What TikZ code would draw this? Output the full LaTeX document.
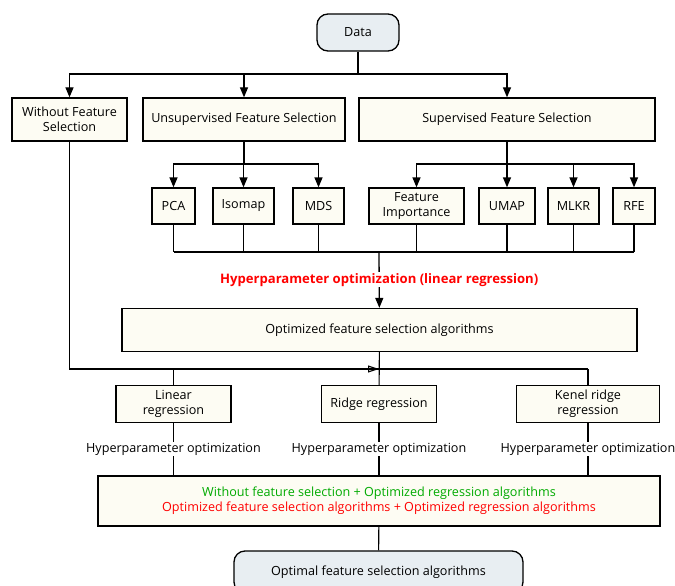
\documentclass[tikz,border=0pt]{standalone}
\usepackage{fontspec}
\setmainfont{Open Sans}
\usetikzlibrary{arrows.meta, positioning, calc}

\definecolor{boxfill}{RGB}{253,252,243}
\definecolor{termfill}{RGB}{232,238,242}
\definecolor{okgreen}{RGB}{0,170,0}

\begin{document}
\begin{tikzpicture}[
  x=1pt, y=-1pt,
  >={Triangle[length=10pt,width=8pt]},
  box/.style={draw, line width=1.3pt, fill=boxfill, inner sep=2pt, font=\fontsize{12.6}{15}\selectfont, align=center},
  term/.style={box, rounded corners=11pt, fill=termfill},
  flow/.style={->, line width=1.3pt},
  link/.style={line width=1.1pt},
  hplabel/.style={fill=white, inner sep=1pt, font=\fontsize{12.6}{15}\selectfont},
  hpmain/.style={fill=white, inner sep=1pt, text=red, font=\fontsize{13.1}{15}\selectfont\bfseries}
]

\useasboundingbox (0,0) rectangle (675,586);

% nodes
\node[term, minimum width=82, minimum height=37] (Data) at (358,32.5) {Data};
\node[box, minimum width=115, minimum height=43] (NoFS)  at (69.5,119.5) {Without Feature\\Selection};
\node[box, minimum width=202, minimum height=43] (UnFS)  at (244,119.5)  {Unsupervised Feature Selection};
\node[box, minimum width=296, minimum height=43] (SupFS) at (507,119.5)  {Supervised Feature Selection};

\node[box, minimum width=43, minimum height=36] (PCA)     at (173.5,206) {PCA};
\node[box, minimum width=61, minimum height=36] (Isomap)  at (243.5,206) {Isomap};
\node[box, minimum width=51, minimum height=36] (MDS)     at (318.5,206) {MDS};
\node[box, minimum width=95, minimum height=36] (FeatImp) at (416.5,206) {Feature\\Importance};
\node[box, minimum width=56, minimum height=36] (UMAP)    at (507,206)   {UMAP};
\node[box, minimum width=51, minimum height=36] (MLKR)    at (573.5,206) {MLKR};
\node[box, minimum width=42, minimum height=36] (RFE)     at (634,206)   {RFE};

\node[box, minimum width=515, minimum height=43] (OptFS) at (379.5,330) {Optimized feature selection algorithms};

\node[box, minimum width=115, minimum height=37] (LinReg)   at (173.5,404) {Linear\\regression};
\node[box, minimum width=115, minimum height=37] (RidgeReg) at (379,404)   {Ridge regression};
\node[box, minimum width=143, minimum height=37] (KenelReg) at (588,404)   {Kenel ridge\\regression};

\node[box, minimum width=562, minimum height=50] (Final) at (379,501)
  {\color{okgreen}Without feature selection + Optimized regression algorithms\\
   \color{red}Optimized feature selection algorithms + Optimized regression algorithms};
\node[term, minimum width=289, minimum height=42] (Optimal) at (378.5,572) {Optimal feature selection algorithms};

% split points
\coordinate (dsplit) at (358,74);
\coordinate (usplit) at (244,164);
\coordinate (ssplit) at (507,164);
\coordinate (merge)  at (379,252);
\coordinate (rsplit) at (379,369);

% flows
\draw[flow] (Data) -- (dsplit) -| (NoFS);
\draw[flow] (dsplit) -| (UnFS);
\draw[flow] (dsplit) -| (SupFS);

\draw[link] (UnFS) -- (usplit);
\foreach \n in {PCA, Isomap, MDS}
  \draw[flow] (usplit) -| (\n);
\draw[link] (SupFS) -- (ssplit);
\foreach \n in {FeatImp, UMAP, MLKR, RFE}
  \draw[flow] (ssplit) -| (\n);

% collect all selectors
\foreach \n in {PCA, Isomap, MDS, FeatImp, UMAP, MLKR, RFE}
  \draw[link] (\n.south) -- (\n.south |- merge);
\draw[link] (PCA.south |- merge) -- (RFE.south |- merge);
\draw[flow] (merge) -- (OptFS) node[hpmain, midway] {Hyperparameter optimization (linear regression)};

% regression branches
\draw[link] (OptFS) -- (RidgeReg);
\draw[link] (LinReg.north |- rsplit) -- (KenelReg.north |- rsplit);
\draw[link] (LinReg.north |- rsplit) -- (LinReg.north);
\draw[link] (KenelReg.north |- rsplit) -- (KenelReg.north);
\draw[link, -{Triangle[open, length=11pt, width=7pt]}] (NoFS) |- (rsplit);

\foreach \n in {LinReg, RidgeReg, KenelReg}
  \draw[link] (\n) -- (Final.north -| \n) node[hplabel, midway] {Hyperparameter optimization};

\draw[link] (Final) -- (Optimal);

\end{tikzpicture}
\end{document}
